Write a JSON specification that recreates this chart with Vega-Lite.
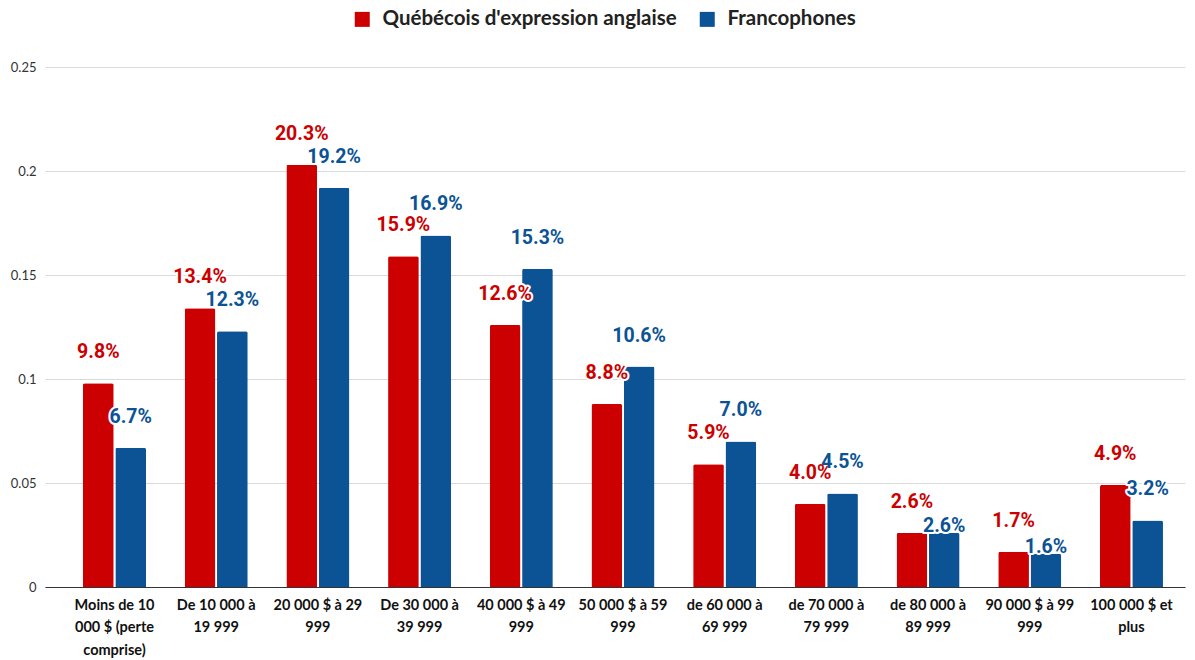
{
  "$schema": "https://vega.github.io/schema/vega-lite/v6.json",
  "autosize": "none",
  "width": 1140,
  "height": 520,
  "padding": {"left": 45, "top": 67, "right": 10, "bottom": 73},
  "background": "white",
  "data": {
    "values": [
      {"tranche": "Moins de 10 000 $ (perte comprise)", "groupe": "Québécois d'expression anglaise", "part": 0.098},
      {"tranche": "Moins de 10 000 $ (perte comprise)", "groupe": "Francophones", "part": 0.067},
      {"tranche": "De 10 000 à 19 999", "groupe": "Québécois d'expression anglaise", "part": 0.134},
      {"tranche": "De 10 000 à 19 999", "groupe": "Francophones", "part": 0.123},
      {"tranche": "20 000 $ à 29 999", "groupe": "Québécois d'expression anglaise", "part": 0.203},
      {"tranche": "20 000 $ à 29 999", "groupe": "Francophones", "part": 0.192},
      {"tranche": "De 30 000 à 39 999", "groupe": "Québécois d'expression anglaise", "part": 0.159},
      {"tranche": "De 30 000 à 39 999", "groupe": "Francophones", "part": 0.169},
      {"tranche": "40 000 $ à 49 999", "groupe": "Québécois d'expression anglaise", "part": 0.126},
      {"tranche": "40 000 $ à 49 999", "groupe": "Francophones", "part": 0.153},
      {"tranche": "50 000 $ à 59 999", "groupe": "Québécois d'expression anglaise", "part": 0.088},
      {"tranche": "50 000 $ à 59 999", "groupe": "Francophones", "part": 0.106},
      {"tranche": "de 60 000 à 69 999", "groupe": "Québécois d'expression anglaise", "part": 0.059},
      {"tranche": "de 60 000 à 69 999", "groupe": "Francophones", "part": 0.070},
      {"tranche": "de 70 000 à 79 999", "groupe": "Québécois d'expression anglaise", "part": 0.040},
      {"tranche": "de 70 000 à 79 999", "groupe": "Francophones", "part": 0.045},
      {"tranche": "de 80 000 à 89 999", "groupe": "Québécois d'expression anglaise", "part": 0.026},
      {"tranche": "de 80 000 à 89 999", "groupe": "Francophones", "part": 0.026},
      {"tranche": "90 000 $ à 99 999", "groupe": "Québécois d'expression anglaise", "part": 0.017},
      {"tranche": "90 000 $ à 99 999", "groupe": "Francophones", "part": 0.016},
      {"tranche": "100 000 $ et plus", "groupe": "Québécois d'expression anglaise", "part": 0.049},
      {"tranche": "100 000 $ et plus", "groupe": "Francophones", "part": 0.032}
    ]
  },
  "encoding": {
    "x": {
      "field": "tranche",
      "type": "nominal",
      "sort": null,
      "scale": {"paddingInner": 0.38, "paddingOuter": 0.295, "align": 0.633},
      "axis": {
        "title": null,
        "labelAngle": 0,
        "labelFont": "Lato",
        "labelFontWeight": "bold",
        "labelFontSize": 14.5,
        "labelColor": "#111111",
        "labelLineHeight": 22.5,
        "labelPadding": 11,
        "labelBaseline": "top",
        "ticks": false,
        "domainColor": "#333333",
        "domainWidth": 1,
        "labelExpr": "{'Moins de 10 000 $ (perte comprise)': ['Moins de 10', '000 $ (perte', 'comprise)'], 'De 10 000 à 19 999': ['De 10 000 à', '19 999'], '20 000 $ à 29 999': ['20 000 $ à 29', '999'], 'De 30 000 à 39 999': ['De 30 000 à', '39 999'], '40 000 $ à 49 999': ['40 000 $ à 49', '999'], '50 000 $ à 59 999': ['50 000 $ à 59', '999'], 'de 60 000 à 69 999': ['de 60 000 à', '69 999'], 'de 70 000 à 79 999': ['de 70 000 à', '79 999'], 'de 80 000 à 89 999': ['de 80 000 à', '89 999'], '90 000 $ à 99 999': ['90 000 $ à 99', '999'], '100 000 $ et plus': ['100 000 $ et', 'plus']}[datum.value]"
      }
    },
    "xOffset": {
      "field": "groupe",
      "type": "nominal",
      "sort": ["Québécois d'expression anglaise", "Francophones"],
      "scale": {"paddingInner": 0.05}
    },
    "y": {
      "field": "part",
      "type": "quantitative",
      "scale": {"domain": [0, 0.25], "nice": false},
      "axis": {
        "title": null,
        "format": "~g",
        "values": [0, 0.05, 0.1, 0.15, 0.2, 0.25],
        "labelFont": "Lato",
        "labelFontSize": 13,
        "labelColor": "#333333",
        "labelPadding": 9,
        "ticks": false,
        "domain": false,
        "gridColor": "#d9d9d9",
        "gridWidth": 1
      }
    },
    "color": {
      "field": "groupe",
      "type": "nominal",
      "sort": ["Québécois d'expression anglaise", "Francophones"],
      "scale": {"range": ["#cc0000", "#0b5394"]},
      "legend": {
        "title": null,
        "orient": "none",
        "direction": "horizontal",
        "legendX": 307,
        "legendY": -58,
        "symbolType": "square",
        "symbolSize": 225,
        "symbolStrokeWidth": 0,
        "labelFont": "Lato",
        "labelFontWeight": "bold",
        "labelFontSize": 20.5,
        "labelColor": "#222222",
        "labelOffset": 10,
        "columnPadding": 20,
        "labelLimit": 400
      }
    }
  },
  "layer": [
    {
      "mark": {"type": "bar", "cornerRadiusTopLeft": 2, "cornerRadiusTopRight": 2}
    },
    {
      "transform": [{"filter": "!(datum.groupe == 'Francophones' && indexof(['de 80 000 à 89 999', '90 000 $ à 99 999'], datum.tranche) >= 0)"}],
      "layer": [
        {
          "mark": {"type": "text", "font": "Roboto", "fontWeight": "bold", "fontSize": 19.5, "baseline": "middle", "dy": -31, "stroke": "white", "strokeWidth": 4, "strokeJoin": "round"},
          "encoding": {
            "text": {"field": "part", "type": "quantitative", "format": ".1%"},
            "color": {"value": "white"}
          }
        },
        {
          "mark": {"type": "text", "font": "Roboto", "fontWeight": "bold", "fontSize": 19.5, "baseline": "middle", "dy": -31},
          "encoding": {
            "text": {"field": "part", "type": "quantitative", "format": ".1%"}
          }
        }
      ]
    },
    {
      "transform": [{"filter": "datum.groupe == 'Francophones' && indexof(['de 80 000 à 89 999', '90 000 $ à 99 999'], datum.tranche) >= 0"}],
      "layer": [
        {
          "mark": {"type": "text", "font": "Roboto", "fontWeight": "bold", "fontSize": 19.5, "baseline": "middle", "dy": -7, "stroke": "white", "strokeWidth": 4, "strokeJoin": "round"},
          "encoding": {
            "text": {"field": "part", "type": "quantitative", "format": ".1%"},
            "color": {"value": "white"}
          }
        },
        {
          "mark": {"type": "text", "font": "Roboto", "fontWeight": "bold", "fontSize": 19.5, "baseline": "middle", "dy": -7},
          "encoding": {
            "text": {"field": "part", "type": "quantitative", "format": ".1%"}
          }
        }
      ]
    }
  ],
  "config": {"view": {"stroke": null}}
}
